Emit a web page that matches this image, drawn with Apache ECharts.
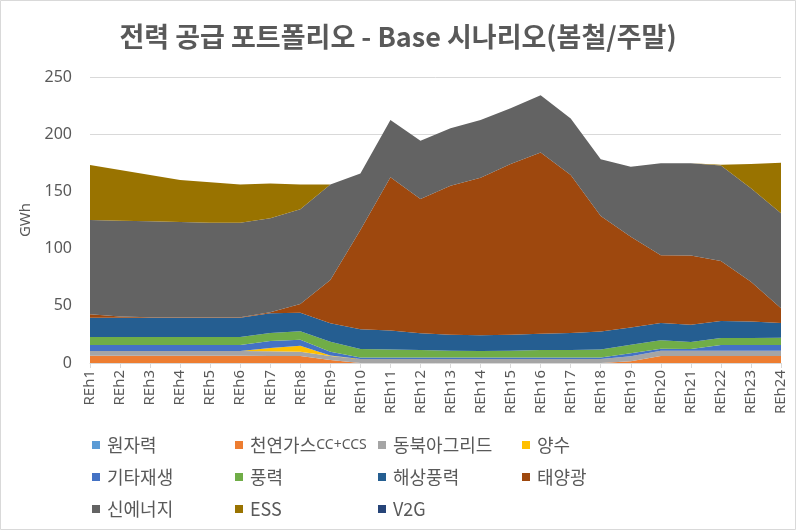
<!DOCTYPE html>
<html>
<head>
<meta charset="utf-8">
<script src="https://cdn.jsdelivr.net/npm/echarts@6/dist/echarts.min.js"></script>
<style>
html,body{margin:0;padding:0;background:#fff;}
#c{width:796px;height:530px;}
</style>
</head>
<body>
<div id="c"></div>
<script>
const categories = ['REh1','REh2','REh3','REh4','REh5','REh6','REh7','REh8','REh9','REh10','REh11','REh12','REh13','REh14','REh15','REh16','REh17','REh18','REh19','REh20','REh21','REh22','REh23','REh24'];
const yTicks = [0, 50, 100, 150, 200, 250];

const nuclear   = [0,0,0,0,0,0,0,0,0,0,0,0,0,0,0,0,0,0,0,0,0,0,0,0];
const lng       = [6.4,6.4,6.4,6.4,6.4,6.4,6.2,6.1,2.6,0,0,0,0,0,0,0,0,0,1.5,6.1,6.1,6.1,6.1,6.1];
const neGrid    = [4.1,4.1,4.1,4.1,4.1,4.1,4.0,3.8,3.5,3.5,3.5,3.5,3.5,3.5,3.5,3.5,3.5,3.5,4.3,4.7,4.7,4.7,4.7,4.7];
const pumped    = [0,0,0,0,0,0,3.0,5.1,0.5,0,0,0,0,0,0,0,0,0,0,0,0,0,0,0];
const otherRe   = [5.2,5.2,5.2,5.2,5.2,5.2,6.0,5.4,3.3,1.4,1.4,1.4,1.4,1.4,1.4,1.4,1.4,1.4,2.7,1.7,1.5,4.9,4.9,4.9];
const wind      = [7.0,7.0,7.0,7.0,7.0,7.0,7.0,7.4,8.7,7.3,6.8,6.5,5.8,5.6,5.8,6.5,6.5,6.8,7.5,7.3,6.0,6.2,6.2,6.4];
const offshore  = [16.9,16.9,16.9,16.9,16.9,16.9,17.2,16.2,16.1,17.2,16.8,14.6,14.1,13.7,14.1,14.2,14.8,15.8,15.0,15.2,15.2,14.8,14.4,12.9];
const solar     = [3.0,1.0,0.5,0.5,0.5,0.5,1.0,7.6,37.8,86.9,133.8,117.4,130.2,137.8,149.2,158.4,138.1,101.0,79.4,59.1,60.5,52.5,34.8,12.8];
const newEnergy = [82.4,83.8,83.9,83.2,82.6,82.5,82.1,82.8,83.5,49.4,50.1,50.9,50.1,50.4,48.6,50.0,49.5,49.5,61.2,80.4,80.5,83.4,81.7,83.0];
const ess       = [48.0,44.3,40.3,36.7,35.3,33.4,30.5,21.6,0,0,0,0,0,0,0,0,0,0,0,0,0,0.6,21.2,44.2];
const v2g       = [0,0,0,0,0,0,0,0,0,0,0,0,0,0,0,0,0,0,0,0,0,0,0,0];

const seriesNames = ['원자력','천연가스CC+CCS','동북아그리드','양수','기타재생','풍력','해상풍력','태양광','신에너지','ESS','V2G'];
const seriesData = [nuclear, lng, neGrid, pumped, otherRe, wind, offshore, solar, newEnergy, ess, v2g];
const colors = ['#5B9BD5','#ED7D31','#A5A5A5','#FFC000','#4472C4','#70AD47','#255E91','#9E480E','#636363','#997300','#264478'];

const legendCols = [92, 235, 378, 522];
const legendRows = [436, 468, 500];
const legendPos = [[0,0],[1,0],[2,0],[3,0],[0,1],[1,1],[2,1],[3,1],[0,2],[1,2],[2,2]];

const chart = echarts.init(document.getElementById('c'), null, {renderer:'canvas'});

const legends = seriesNames.map((n, i) => ({
  data: [n],
  left: legendCols[legendPos[i][0]],
  top: legendRows[legendPos[i][1]],
  icon: 'rect',
  itemWidth: 8,
  itemHeight: 8,
  itemGap: 0,
  padding: 0,
  formatter: function (name) {
    if (name === '천연가스CC+CCS') return '천연가스{s|CC+CCS}';
    return name;
  },
  textStyle: {
    color: '#595959',
    fontSize: 18,
    fontFamily: 'Noto Sans CJK KR',
    padding: [0, 0, 0, 2],
    rich: { s: { fontSize: 14, color: '#595959', fontFamily: 'Noto Sans' } }
  }
}));

chart.setOption({
  animation: false,
  backgroundColor: '#ffffff',
  color: colors,
  title: {
    text: '전력 공급 포트폴리오 - Base 시나리오(봄철/주말)',
    left: 'center',
    top: 18,
    textStyle: {
      color: '#595959',
      fontSize: 27,
      fontWeight: 'bold',
      fontFamily: 'Noto Sans CJK KR'
    }
  },
  graphic: [{
    type: 'rect',
    shape: { x: 0.5, y: 0.5, width: 795, height: 529 },
    style: { fill: 'none', stroke: '#D9D9D9', lineWidth: 1 },
    silent: true
  }],
  legend: legends,
  grid: { left: 90, right: 15, top: 77, bottom: 167 },
  xAxis: {
    type: 'category',
    data: categories,
    boundaryGap: false,
    axisLine: { lineStyle: { color: '#D9D9D9' } },
    axisTick: { show: true, length: 5, lineStyle: { color: '#D9D9D9' } },
    axisLabel: {
      rotate: 90,
      color: '#595959',
      fontSize: 15,
      fontFamily: 'Noto Sans',
      margin: 7,
      interval: 0
    }
  },
  yAxis: {
    type: 'value',
    min: yTicks[0],
    max: yTicks[yTicks.length - 1],
    interval: 50,
    name: 'GWh',
    nameLocation: 'middle',
    nameGap: 53,
    nameTextStyle: { color: '#595959', fontSize: 15, fontFamily: 'Noto Sans' },
    axisLine: { show: false },
    axisTick: { show: false },
    axisLabel: { color: '#595959', fontSize: 16, fontFamily: 'Noto Sans', margin: 18 },
    splitLine: { lineStyle: { color: '#D9D9D9' } }
  },
  series: seriesNames.map((n, i) => ({
    name: n,
    type: 'line',
    stack: 'total',
    data: seriesData[i],
    showSymbol: false,
    symbol: 'none',
    lineStyle: { width: 0 },
    areaStyle: { color: colors[i], opacity: 1 },
    itemStyle: { color: colors[i] }
  }))
});
</script>
</body>
</html>
